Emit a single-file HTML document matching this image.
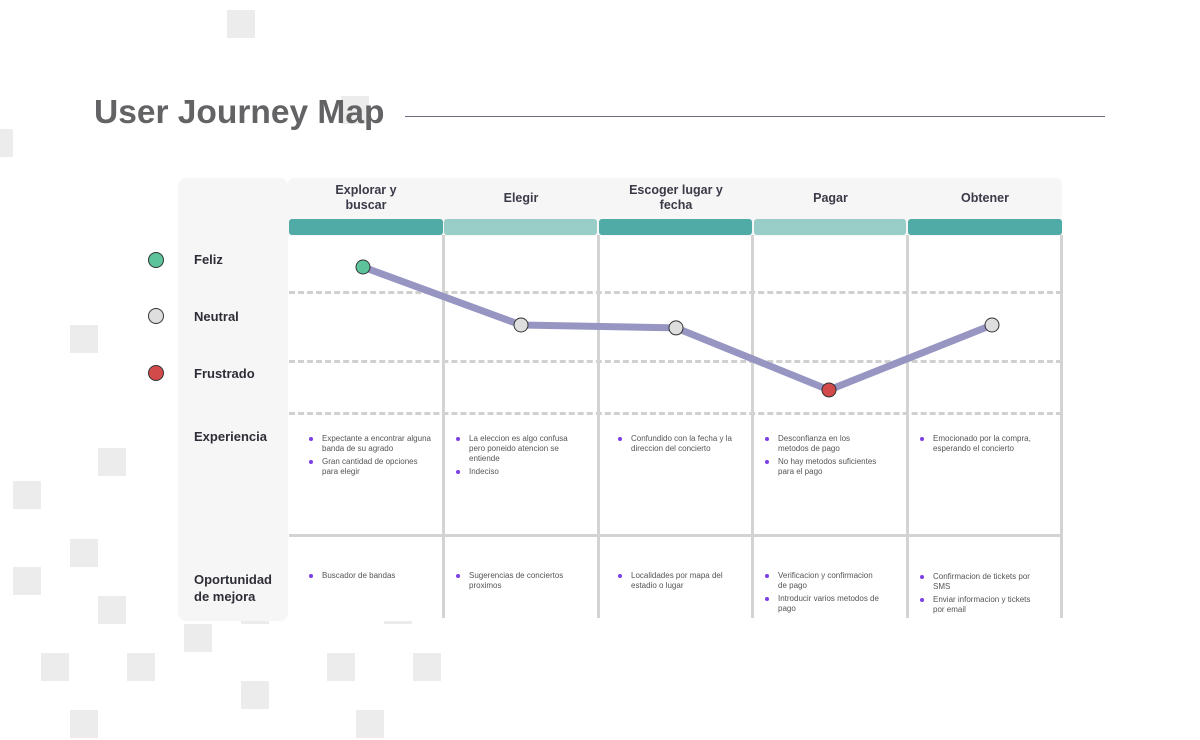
<!DOCTYPE html>
<html><head><meta charset="utf-8"><style>
body{margin:0;width:1200px;height:740px;background:#fff;position:relative;overflow:hidden;font-family:"Liberation Sans",sans-serif}
.sq{position:absolute;width:28px;height:28px;background:#ececec}
.abs{position:absolute}
.lbl{position:absolute;left:194px;font-weight:bold;font-size:13px;color:#2e2e38;line-height:17px}
.hd{position:absolute;top:178px;height:40px;display:flex;align-items:center;justify-content:center;text-align:center;font-weight:bold;font-size:12.5px;color:#3a3a48;line-height:15px}
.bar{position:absolute;top:219px;height:16px;border-radius:3px}
.vs{position:absolute;top:235px;width:3px;height:383px;background:#d3d3d3}
.dl{position:absolute;left:289px;width:773px;border-top:3px dashed #d0d0d0}
ul{position:absolute;margin:0;padding:0;list-style:none;font-size:8px;color:#555;line-height:10px}
li{position:relative;padding-left:14px;margin-bottom:3px}
li:before{content:"";position:absolute;left:1px;top:3px;width:4px;height:4px;border-radius:50%;background:#7b3fe4}
.emo{position:absolute;left:148px;width:14px;height:14px;border-radius:50%;border:1px solid #333}
</style></head><body>
<div class="sq" style="left:227px;top:10px"></div>
<div class="sq" style="left:341px;top:96px"></div>
<div class="sq" style="left:-15px;top:129px"></div>
<div class="sq" style="left:70px;top:325px"></div>
<div class="sq" style="left:98px;top:448px"></div>
<div class="sq" style="left:13px;top:481px"></div>
<div class="sq" style="left:70px;top:539px"></div>
<div class="sq" style="left:13px;top:567px"></div>
<div class="sq" style="left:98px;top:596px"></div>
<div class="sq" style="left:184px;top:624px"></div>
<div class="sq" style="left:41px;top:653px"></div>
<div class="sq" style="left:127px;top:653px"></div>
<div class="sq" style="left:327px;top:653px"></div>
<div class="sq" style="left:413px;top:653px"></div>
<div class="sq" style="left:241px;top:681px"></div>
<div class="sq" style="left:70px;top:710px"></div>
<div class="sq" style="left:356px;top:710px"></div>
<div class="sq" style="left:241px;top:596px"></div>
<div class="sq" style="left:384px;top:596px"></div>

<div class="abs" style="left:94px;top:94px;font-size:33.5px;font-weight:900;color:#636366;z-index:5">User Journey Map</div>
<div class="abs" style="left:405px;top:116px;width:700px;height:1px;background:#6a6a80"></div>

<div class="abs" style="left:288px;top:236px;width:775px;height:385px;background:#fff"></div>
<div class="abs" style="left:178px;top:178px;width:110px;height:443px;background:#f6f6f6;border-radius:8px"></div>
<div class="abs" style="left:288px;top:178px;width:774px;height:58px;background:#f6f6f6;border-radius:6px 6px 0 0"></div>

<div class="hd" style="left:289px;width:154px">Explorar y<br>buscar</div>
<div class="hd" style="left:444px;width:154px">Elegir</div>
<div class="hd" style="left:599px;width:154px">Escoger lugar y<br>fecha</div>
<div class="hd" style="left:754px;width:153px">Pagar</div>
<div class="hd" style="left:908px;width:154px">Obtener</div>

<div class="bar" style="left:289px;width:154px;background:#50aaa6"></div>
<div class="bar" style="left:444px;width:153px;background:#98cdc8"></div>
<div class="bar" style="left:599px;width:153px;background:#50aaa6"></div>
<div class="bar" style="left:754px;width:152px;background:#98cdc8"></div>
<div class="bar" style="left:908px;width:154px;background:#50aaa6"></div>

<div class="dl" style="top:291px"></div>
<div class="dl" style="top:360px"></div>
<div class="dl" style="top:412px"></div>
<div class="abs" style="left:289px;top:534px;width:773px;height:3px;background:#d3d3d3"></div>
<div class="vs" style="left:442px"></div>
<div class="vs" style="left:597px"></div>
<div class="vs" style="left:751px"></div>
<div class="vs" style="left:906px"></div>
<div class="vs" style="left:1060px"></div>

<div class="emo" style="top:252px;background:#5cc39a"></div>
<div class="emo" style="top:308px;background:#dedede"></div>
<div class="emo" style="top:365px;background:#d24a4a"></div>
<div class="lbl" style="top:251px">Feliz</div>
<div class="lbl" style="top:308px">Neutral</div>
<div class="lbl" style="top:365px">Frustrado</div>
<div class="lbl" style="top:428px">Experiencia</div>
<div class="lbl" style="top:571px">Oportunidad<br>de mejora</div>

<ul style="left:308px;top:434px;width:125px"><li>Expectante a encontrar alguna banda de su agrado</li><li>Gran cantidad de opciones para elegir</li></ul>
<ul style="left:455px;top:434px;width:128px"><li>La eleccion es algo confusa pero poneido atencion se entiende</li><li>Indeciso</li></ul>
<ul style="left:617px;top:434px;width:120px"><li>Confundido con la fecha y la direccion del concierto</li></ul>
<ul style="left:764px;top:434px;width:118px"><li>Desconfianza en los metodos de pago</li><li>No hay metodos suficientes para el pago</li></ul>
<ul style="left:919px;top:434px;width:135px"><li>Emocionado por la compra, esperando el concierto</li></ul>

<ul style="left:308px;top:571px;width:130px"><li>Buscador de bandas</li></ul>
<ul style="left:455px;top:571px;width:120px"><li>Sugerencias de conciertos proximos</li></ul>
<ul style="left:617px;top:571px;width:115px"><li>Localidades por mapa del estadio o lugar</li></ul>
<ul style="left:764px;top:571px;width:118px"><li>Verificacion y confirmacion de pago</li><li>Introducir varios metodos de pago</li></ul>
<ul style="left:919px;top:572px;width:125px"><li>Confirmacion de tickets por SMS</li><li>Enviar informacion y tickets por email</li></ul>

<svg id="chart" class="abs" style="left:0;top:0" width="1200" height="740"></svg>
<script>
const stages=["Explorar y buscar","Elegir","Escoger lugar y fecha","Pagar","Obtener"];
const emotionValues=[1,0,-0.05,-1.12,0];
const stageX=[363,521,676,829,992];
const y=v=>325-v*58;
const colorFor=v=>v>0.5?"#5cc39a":(v<-0.5?"#d24a4a":"#dedede");
const svg=document.getElementById('chart');
const NS="http://www.w3.org/2000/svg";
const pts=emotionValues.map((v,i)=>stageX[i]+","+y(v)).join(" ");
const pl=document.createElementNS(NS,"polyline");


pl.setAttribute("points",pts);pl.setAttribute("fill","none");pl.setAttribute("stroke","#9795c1");pl.setAttribute("stroke-width","7");pl.setAttribute("stroke-linejoin","round");
svg.appendChild(pl);
emotionValues.forEach((v,i)=>{
  const c=document.createElementNS(NS,"circle");
  
  
  c.setAttribute("cx",stageX[i]);c.setAttribute("cy",y(v));c.setAttribute("r","7");
  c.setAttribute("fill",colorFor(v));c.setAttribute("stroke","#333");c.setAttribute("stroke-width","1");
  svg.appendChild(c);
});
</script>
</body></html>
